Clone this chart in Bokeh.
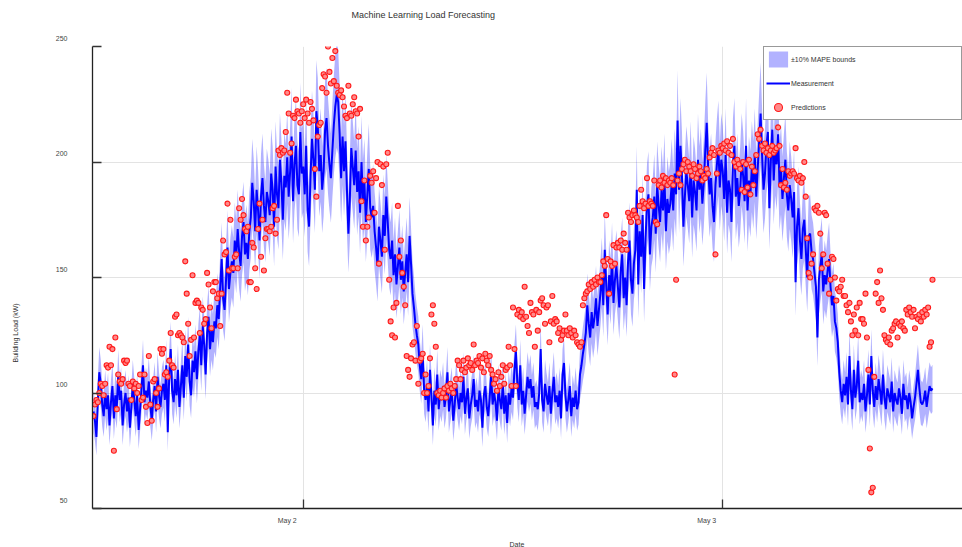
import pandas as pd
from bokeh.plotting import figure
from bokeh.models import (ColumnDataSource, Range1d, FixedTicker, Legend, LegendItem,
                          LinearAxis, DatetimeAxis, Title)
from bokeh.embed import file_html
from bokeh.resources import INLINE

title_text = "Machine Learning Load Forecasting"
x_label = "Date"
y_label = "Building Load (kW)"
series_names = ["±10% MAPE bounds", "Measurement", "Predictions"]
start_time = "2016-05-01 12:00"
step = "5min"
x_tick_dates = ["2016-05-02", "2016-05-03"]
x_tick_labels = ["May 2", "May 3"]
y_ticks = [50, 100, 150, 200, 250]
y_tick_labels = ["50", "100", "150", "200", "250"]
mape = 0.10

# measured building load, kW, one value every 5 minutes (rows = hours)
measurement = [
    92, 88, 81, 97, 109, 104, 95, 90, 100, 93, 99, 86,
    96, 103, 89, 99, 94, 108, 97, 101, 86, 95, 100, 92,
    98, 85, 94, 104, 97, 90, 99, 84, 93, 102, 112, 96,
    101, 98, 105, 95, 88, 97, 103, 92, 107, 99, 94, 101,
    104, 97, 112, 83, 108, 119, 101, 96, 106, 99, 110, 94,
    103, 112, 98, 116, 107, 121, 105, 99, 114, 109, 118, 106,
    118, 125, 112, 129, 121, 108, 126, 133, 119, 127, 122, 131,
    128, 138, 132, 146, 158, 141, 136, 149, 163, 145, 152, 157,
    152, 166, 159, 171, 161, 155, 168, 174, 160, 165, 158, 170,
    176, 191, 183, 170, 188, 179, 166, 185, 193, 181, 174, 187,
    183, 177, 195, 188, 172, 198, 186, 180, 201, 191, 175, 194,
    189, 202, 185, 196, 211, 183, 199, 207, 190, 186, 213, 195,
    198, 186, 207, 179, 172, 194, 210, 201, 188, 222, 215, 196,
    203, 188, 196, 214, 219, 207, 199, 193, 205, 216, 224, 229,
    226, 212, 193, 211, 196, 209, 188, 169, 184, 206, 198, 190,
    205, 187, 196, 178, 200, 183, 191, 174, 186, 197, 180, 176,
    181, 170, 163, 155, 172, 166, 159, 177, 168, 185, 174, 162,
    158, 166, 151, 160, 147, 155, 163, 149, 157, 144, 152, 160,
    148, 168, 156, 143, 137, 130, 125, 121, 112, 106, 118, 101,
    97, 104, 92, 110, 99, 86, 101, 95, 108, 93, 100, 97,
    103, 94, 99, 109, 92, 97, 101, 88, 95, 104, 98, 93,
    100, 96, 107, 91, 98, 102, 89, 95, 99, 106, 94, 97,
    92, 101, 97, 85, 99, 103, 94, 90, 98, 108, 95, 100,
    96, 88, 102, 97, 93, 104, 91, 99, 87, 100, 95, 102,
    98, 110, 118, 104, 97, 112, 95, 101, 91, 99, 107, 102,
    106, 98, 103, 94, 96, 93, 100, 119, 97, 92, 104, 99,
    95, 103, 91, 100, 107, 96, 99, 94, 101, 89, 108, 113,
    99, 92, 97, 103, 90, 98, 94, 101, 93, 96, 108, 112,
    117, 121, 126, 138, 130, 124, 135, 128, 133, 141, 129, 136,
    143, 152, 138, 162, 147, 134, 151, 144, 158, 139, 149, 155,
    146, 137, 153, 160, 141, 150, 138, 157, 166, 149, 143, 156,
    162, 188, 147, 170, 159, 177, 145, 167, 181, 186, 160, 172,
    176, 185, 169, 190, 181, 174, 188, 179, 193, 170, 184, 178,
    182, 191, 179, 195, 186, 218, 188, 207, 194, 172, 185, 196,
    190, 183, 198, 176, 192, 187, 179, 201, 188, 195, 182, 191,
    205, 217, 197, 186, 193, 181, 174, 190, 199, 206, 189, 201,
    196, 184, 203, 178, 192, 188, 174, 199, 207, 185, 193, 181,
    188, 201, 194, 183, 207, 179, 192, 186, 198, 190, 203, 185,
    197, 209, 221, 203, 188, 195, 207, 213, 180, 200, 214, 192,
    206, 199, 212, 189, 197, 184, 193, 201, 186, 179, 190, 184,
    176, 187, 148, 172, 180, 166, 158, 171, 175, 162, 150, 168,
    169, 161, 158, 152, 146, 124, 149, 155, 160, 144, 151, 147,
    153, 158, 146, 138, 142, 131, 128, 122, 109, 101, 96, 104,
    99, 107, 95, 116, 101, 93, 110, 98, 103, 114, 96, 100,
    97, 104, 92, 99, 108, 95, 116, 101, 94, 103, 97, 106,
    101, 95, 108, 98, 93, 102, 99, 96, 105, 92, 100, 97,
    95, 102, 98, 91, 104, 97, 99, 93, 100, 96, 89, 94,
    98, 104, 110, 102, 96, 95, 97, 101, 94, 99, 103, 101,
    102,
]

# model predictions, kW, same timestamps
predictions = [
    90, 95, 97, 96, 100, 104, 103, 99, 104, 112, 111, 120,
    112, 119, 75, 124, 93, 108, 105, 104, 106, 114, 113, 114,
    104, 103, 97, 105, 102, 104, 100, 103, 108, 97, 98, 108,
    94, 87, 116, 95, 88, 105, 106, 100, 94, 102, 119, 117,
    119, 108, 109, 107, 114, 126, 112, 111, 133, 134, 125, 126,
    125, 124, 122, 157, 143, 130, 116, 123, 151, 124, 139, 140,
    139, 126, 137, 136, 130, 132, 152, 147, 137, 128, 144, 148,
    148, 141, 143, 129, 143, 166, 160, 161, 182, 153, 175, 154,
    154, 159, 160, 154, 180, 175, 184, 177, 171, 170, 172, 148,
    148, 165, 163, 154, 145, 171, 182, 159, 175, 153, 167, 171,
    171, 170, 172, 180, 181, 169, 175, 205, 203, 206, 204, 205,
    213, 230, 221, 204, 208, 220, 219, 227, 222, 221, 217, 222,
    225, 219, 227, 221, 217, 226, 223, 218, 197, 185, 211, 216,
    217, 232, 238, 237, 230, 250, 239, 234, 245, 235, 248, 233,
    230, 229, 231, 228, 224, 220, 219, 233, 221, 220, 225, 228,
    222, 221, 211, 223, 183, 172, 192, 166, 172, 176, 194, 191,
    196, 178, 193, 200, 156, 199, 190, 198, 162, 199, 204, 149,
    131, 125, 137, 124, 139, 181, 159, 166, 152, 146, 138, 116,
    110, 107, 115, 121, 122, 114, 129, 104, 114, 115, 117, 100,
    108, 100, 103, 115, 134, 138, 130, 120, 100, 99, 101, 98,
    100, 102, 98, 103, 101, 104, 102, 100, 103, 106, 114, 112,
    106, 110, 114, 109, 111, 115, 112, 113, 110, 121, 112, 114,
    113, 116, 111, 115, 109, 117, 114, 112, 116, 110, 108, 104,
    106, 101, 109, 103, 107, 112, 104, 110, 111, 120, 112, 103,
    137, 119, 103, 134, 136, 133, 135, 132, 146, 133, 129, 126,
    139, 135, 134, 120, 136, 127, 135, 140, 141, 138, 130, 137,
    138, 122, 131, 142, 130, 132, 131, 126, 128, 123, 125, 127,
    134, 127, 125, 128, 126, 124, 127, 125, 122, 121, 120, 122,
    138, 141, 143, 144, 147, 145, 148, 146, 149, 147, 150, 148,
    148, 151, 157, 155, 177, 158, 143, 157, 155, 164, 156, 163,
    165, 163, 166, 162, 169, 165, 162, 178, 176, 174, 177, 179,
    177, 176, 174, 181, 188, 183, 180, 182, 193, 181, 183, 182,
    181, 192, 174, 173, 190, 192, 189, 194, 191, 193, 190, 192,
    191, 193, 190, 108, 149, 192, 195, 190, 197, 199, 201, 196,
    200, 198, 196, 194, 199, 197, 193, 195, 198, 196, 192, 194,
    193, 197, 195, 202, 204, 206, 203, 160, 195, 205, 204, 207,
    206, 208, 205, 209, 204, 207, 203, 210, 200, 198, 201, 199,
    197, 188, 200, 187, 199, 189, 201, 186, 198, 190, 196, 203,
    212, 210, 214, 207, 205, 208, 204, 206, 203, 205, 207, 204,
    205, 206, 215, 207, 190, 197, 189, 191, 188, 196, 194, 195,
    196, 195, 206, 193, 192, 194, 191, 193, 200, 185, 167, 152,
    150, 156, 160, 180, 179, 181, 178, 169, 154, 160, 178, 177,
    156, 143, 149, 159, 158, 150, 140, 145, 144, 146, 149, 142,
    142, 138, 135, 139, 131, 125, 134, 127, 137, 125, 139, 132,
    132, 130, 143, 124, 110, 76, 57, 59, 107, 143, 148, 139,
    153, 141, 136, 125, 123, 122, 124, 121, 127, 128, 130, 131,
    124, 130, 129, 131, 128, 127, 136, 134, 137, 135, 133, 136,
    128, 133, 132, 134, 131, 135, 133, 136, 134, 137, 120, 122,
    149,
]

times = pd.date_range(start_time, periods=len(measurement), freq=step)
lower = [v * (1 - mape) for v in measurement]
upper = [v * (1 + mape) for v in measurement]
src = ColumnDataSource(dict(t=times, m=measurement, p=predictions, lo=lower, hi=upper))

FONT = "Liberation Sans"
x_start = pd.Timestamp(start_time) - pd.Timedelta(minutes=3.4)
x_end = pd.Timestamp("2016-05-03 13:43")
label_shift = pd.Timedelta(minutes=55)   # x tick labels sit ~16px left of their ticks

p = figure(width=962, height=547, x_axis_type="datetime", title=None,
           x_range=Range1d(x_start, x_end), y_range=Range1d(y_ticks[0], y_ticks[-1]),
           output_backend="svg", toolbar_location=None,
           min_border_left=92, min_border_right=0, min_border_top=46, min_border_bottom=38)
p.outline_line_color = None
p.background_fill_color = "white"
p.extra_x_ranges = {"xlab": Range1d(x_start + label_shift, x_end + label_shift)}

band = p.varea(x="t", y1="lo", y2="hi", source=src, fill_color="blue", fill_alpha=0.3)
line = p.line(x="t", y="m", source=src, line_color="#0000ff", line_width=2)
pts = p.scatter(x="t", y="p", source=src, size=5, fill_color="#ff8a8a",
                line_color="#ff1a1a", line_width=1.1)

tick_ms = [pd.Timestamp(d).value // 10**6 for d in x_tick_dates]
p.xaxis.ticker = FixedTicker(ticks=tick_ms)
p.yaxis.ticker = FixedTicker(ticks=y_ticks)

for ax in (p.xaxis[0], p.yaxis[0]):
    ax.axis_line_color = "#222222"
    ax.axis_line_width = 1.3
    ax.major_tick_in = 9
    ax.major_tick_out = 0
    ax.major_tick_line_color = "#333333"
    ax.major_tick_line_width = 1.3
    ax.minor_tick_line_color = None
    ax.major_label_text_font = FONT
    ax.major_label_text_font_size = "7px"
    ax.major_label_text_color = "#444444"

# main x axis: ticks only; labels come from the shifted label axis below it
p.xaxis[0].major_label_text_color = None

# y tick labels sit a little above their ticks
p.yaxis.major_label_standoff = 25
p.yaxis.major_label_overrides = {v: lab + "\n\n" for v, lab in zip(y_ticks, y_tick_labels)}

xlab_axis = DatetimeAxis(x_range_name="xlab", ticker=FixedTicker(ticks=tick_ms),
                         axis_line_color=None, major_tick_line_color=None,
                         minor_tick_line_color=None, major_tick_in=0, major_tick_out=0,
                         major_label_standoff=8, major_label_text_font=FONT,
                         major_label_text_font_size="7px", major_label_text_color="#444444")
xlab_axis.major_label_overrides = {float(ms): lab for ms, lab in zip(tick_ms, x_tick_labels)}
p.add_layout(xlab_axis, "below")


def spacer(size, tick):
    # an axis whose single white (invisible on white) tick reserves empty space
    return LinearAxis(ticker=FixedTicker(ticks=[tick]), axis_line_color=None,
                      major_tick_line_color="#ffffff", major_tick_line_width=1,
                      minor_tick_line_color=None,
                      major_tick_in=0, major_tick_out=size, major_label_text_color=None)


def side_title(text, size, offset, color="#333333"):
    return Title(text=text, align="left", offset=offset, vertical_align="bottom",
                 standoff=0, text_font=FONT, text_font_size=size,
                 text_font_style="normal", text_color=color)


p.add_layout(spacer(27, tick_ms[0]), "above")
p.add_layout(side_title(title_text, "9px", 259), "above")

p.add_layout(spacer(33, y_ticks[2]), "left")
yt = side_title(y_label, "7px", 146)
yt.vertical_align = "middle"
p.add_layout(yt, "left")

p.add_layout(spacer(12, tick_ms[0]), "below")
p.add_layout(side_title(x_label, "7px", 417), "below")

p.grid.grid_line_color = "#e3e3e3"
p.grid.grid_line_width = 1

legend = Legend(items=[LegendItem(label=name, renderers=[r])
                       for name, r in zip(series_names, [band, line, pts])],
                location="top_right")
legend.margin = 0
legend.padding = 2
legend.spacing = 4
legend.glyph_height = 20
legend.glyph_width = 24
legend.label_standoff = 1
legend.label_width = 168
legend.label_text_font = FONT
legend.label_text_font_size = "7px"
legend.label_text_color = "#333333"
legend.border_line_color = "#333333"
legend.border_line_width = 1.2
legend.background_fill_alpha = 1.0
p.add_layout(legend)

open("out.html", "w").write(file_html(p, INLINE))
